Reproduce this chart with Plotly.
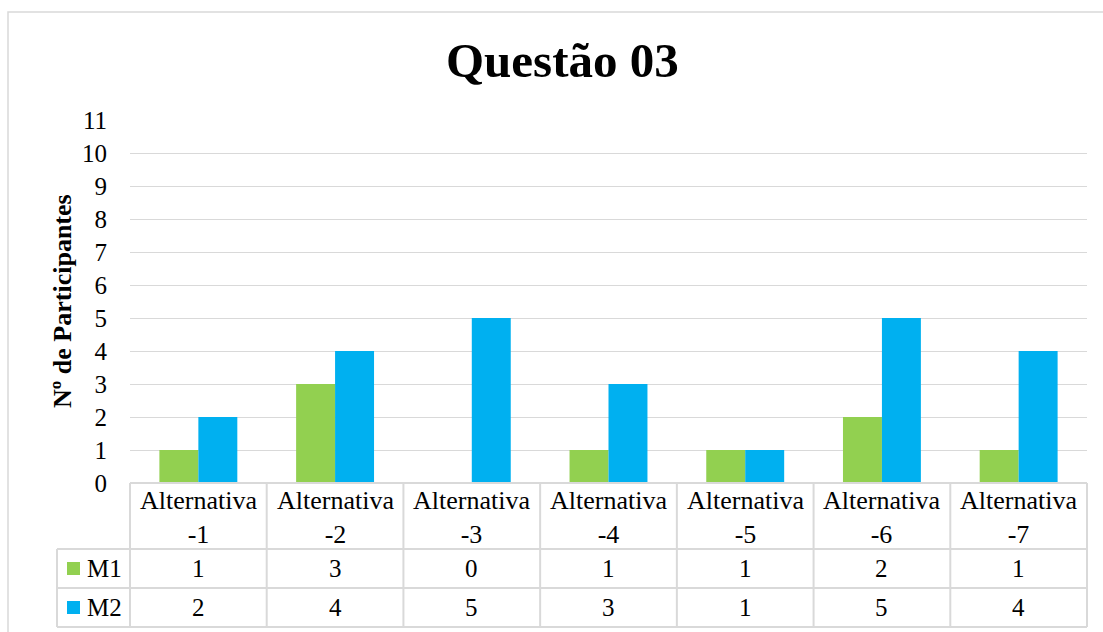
import plotly.graph_objects as go

categories = ["Alternativa -1", "Alternativa -2", "Alternativa -3", "Alternativa -4",
              "Alternativa -5", "Alternativa -6", "Alternativa -7"]
header_labels = ["Alternativa<br>-1", "Alternativa<br>-2", "Alternativa<br>-3", "Alternativa<br>-4",
                 "Alternativa<br>-5", "Alternativa<br>-6", "Alternativa<br>-7"]
m1 = [1, 3, 0, 1, 1, 2, 1]
m2 = [2, 4, 5, 3, 1, 5, 4]
series_names = ["M1", "M2"]
colors = ["#92D050", "#00B0F0"]

W, H = 1103, 632
L, R, T, B = 130, 1087, 120, 483
FONT = "Liberation Serif"
GRID = "#d9d9d9"


def px(x):
    return (x - L) / (R - L)


def py(y):
    return (B - y) / (B - T)


fig = go.Figure()
for name, vals, c in zip(series_names, [m1, m2], colors):
    fig.add_trace(go.Bar(x=categories, y=vals, name=name, marker=dict(color=c, line=dict(width=0)),
                         showlegend=False))

shapes = []
shapes.append(dict(type="rect", xref="paper", yref="paper", x0=px(8), x1=px(1125), y0=py(12), y1=py(645),
                   line=dict(color=GRID, width=1.5), fillcolor="rgba(0,0,0,0)", layer="below"))
row_y = [483, 549, 588, 627]
for i, yy in enumerate(row_y):
    x0 = L if i == 0 else 57
    shapes.append(dict(type="line", xref="paper", yref="paper", x0=px(x0), x1=px(R), y0=py(yy), y1=py(yy),
                       line=dict(color=GRID, width=2)))
n = len(categories)
for k in range(n + 1):
    xx = L + k * (R - L) / n
    shapes.append(dict(type="line", xref="paper", yref="paper", x0=px(xx), x1=px(xx), y0=py(483), y1=py(627),
                       line=dict(color=GRID, width=2)))
shapes.append(dict(type="line", xref="paper", yref="paper", x0=px(57), x1=px(57), y0=py(549), y1=py(627),
                   line=dict(color=GRID, width=2)))
for j, c in enumerate(colors):
    yc = 568.5 + j * 39
    shapes.append(dict(type="rect", xref="paper", yref="paper", x0=px(67), x1=px(80), y0=py(yc - 6.5),
                       y1=py(yc + 6.5), line=dict(width=0), fillcolor=c))

annotations = []
annotations.append(dict(text="<b>Questão 03</b>", xref="paper", yref="paper", x=px(562), y=py(60),
                        showarrow=False, font=dict(family=FONT, size=49, color="#000000"),
                        xanchor="center", yanchor="middle"))
annotations.append(dict(text="<b>Nº de Participantes</b>", xref="paper", yref="paper", x=px(62), y=py(301),
                        showarrow=False, textangle=-90, font=dict(family=FONT, size=26, color="#000000"),
                        xanchor="center", yanchor="middle"))
for k, lab in enumerate(header_labels):
    xc = L + (k + 0.5) * (R - L) / n
    annotations.append(dict(text=lab, xref="paper", yref="paper", x=px(xc), y=py(517), showarrow=False,
                            font=dict(family=FONT, size=26, color="#000000"), xanchor="center",
                            yanchor="middle"))
for j, (name, vals) in enumerate(zip(series_names, [m1, m2])):
    yc = 568.5 + j * 39
    annotations.append(dict(text=name, xref="paper", yref="paper", x=px(85), y=py(yc), showarrow=False,
                            font=dict(family=FONT, size=25, color="#000000"), xanchor="left",
                            yanchor="middle"))
    for k, v in enumerate(vals):
        xc = L + (k + 0.5) * (R - L) / n
        annotations.append(dict(text=str(v), xref="paper", yref="paper", x=px(xc), y=py(yc),
                                showarrow=False, font=dict(family=FONT, size=25, color="#000000"),
                                xanchor="center", yanchor="middle"))

fig.update_layout(
    width=W, height=H,
    margin=dict(l=L, r=W - R, t=T, b=H - B, pad=0),
    paper_bgcolor="white", plot_bgcolor="white",
    barmode="group", bargap=0.43, bargroupgap=0,
    font=dict(family=FONT, color="#000000"),
    xaxis=dict(showticklabels=False, showgrid=False, zeroline=False, showline=False, ticks="",
               range=[-0.5, n - 0.5], fixedrange=True),
    yaxis=dict(range=[0, 11], dtick=1, tick0=0, showgrid=True, gridcolor=GRID, gridwidth=1.3,
               zeroline=False, showline=False, ticks="", ticklabelstandoff=22,
               tickfont=dict(family=FONT, size=25, color="#000000")),
    shapes=shapes, annotations=annotations,
)

fig.write_html("out.html")
